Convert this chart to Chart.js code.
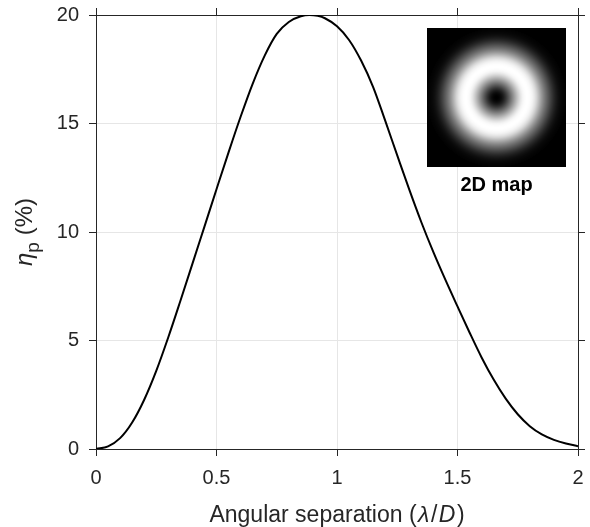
<!DOCTYPE html>
<html>
<head>
<meta charset="utf-8">
<script src="https://cdn.jsdelivr.net/npm/chart.js@4"></script>
<style>
  html, body { margin: 0; padding: 0; background: #fff; }
</style>
</head>
<body>
<canvas id="myChart" width="590" height="527"></canvas>
<script>
// valores
const separacion = [0, 0.05, 0.1, 0.15, 0.2, 0.25, 0.3, 0.35, 0.4, 0.45, 0.5, 0.55, 0.6, 0.65, 0.7,
  0.75, 0.8, 0.85, 0.885, 0.92, 0.95, 1.0, 1.05, 1.1, 1.15, 1.2, 1.25, 1.3, 1.35, 1.4, 1.45, 1.5, 1.55,
  1.6, 1.65, 1.7, 1.75, 1.8, 1.85, 1.9, 1.95, 2.0];
const eficiencia = [0, 0.12, 0.5, 1.22, 2.27, 3.6, 5.15, 6.82, 8.53, 10.25, 11.97, 13.67, 15.31, 16.83, 18.13,
  19.13, 19.68, 19.94, 20.0, 19.96, 19.85, 19.48, 18.85, 17.9, 16.68, 15.13, 13.53, 11.95, 10.45, 9.07, 7.79, 6.57, 5.37,
  4.22, 3.2, 2.32, 1.6, 1.05, 0.67, 0.42, 0.25, 0.13];
const ticksX = [0, 0.5, 1, 1.5, 2];
const ticksY = [0, 5, 10, 15, 20];
const tituloX = [['Angular separation (', false], ['λ', true], ['/', false], ['D', true], [')', false]];
const tituloY = ['η', 'p', ' (%)'];
const textoMapa = '2D map';

const ctx = document.getElementById('myChart');
const fuente = "'Liberation Sans', Arial, Helvetica, sans-serif";
const gris = '#262626';

const fijarTicks = (valores) => (scale) => {
  scale.ticks = valores.map(v => ({ value: v }));
};

// interpolacion lineal para pintar el mapa 2D a partir de la curva
const valorEn = (r) => {
  if (r >= separacion[separacion.length - 1]) return 0;
  for (let i = 1; i < separacion.length; i++) {
    if (r <= separacion[i]) {
      const t = (r - separacion[i - 1]) / (separacion[i] - separacion[i - 1]);
      return eficiencia[i - 1] + t * (eficiencia[i] - eficiencia[i - 1]);
    }
  }
  return 0;
};

const textos = {
  id: 'textos',
  afterDraw(chart) {
    const c = chart.ctx;
    const area = chart.chartArea;
    c.save();
    c.fillStyle = gris;
    c.textBaseline = 'alphabetic';

    // titulo eje x con partes en cursiva
    const tam = 23;
    const extra = 1.5;
    let ancho = 0;
    tituloX.forEach(([t, it]) => {
      c.font = (it ? 'italic ' : '') + tam + 'px ' + fuente;
      ancho += c.measureText(t).width + (it ? extra * 2 : 0);
    });
    let x = (area.left + area.right) / 2 - ancho / 2;
    tituloX.forEach(([t, it]) => {
      c.font = (it ? 'italic ' : '') + tam + 'px ' + fuente;
      c.textAlign = 'left';
      if (it) x += extra;
      c.fillText(t, x, 522);
      x += c.measureText(t).width + (it ? extra : 0);
    });

    // titulo eje y
    const tamY = 24;
    c.translate(32, (area.top + area.bottom) / 2);
    c.rotate(-Math.PI / 2);
    c.font = 'italic ' + tamY + 'px ' + fuente;
    const w1 = c.measureText(tituloY[0]).width;
    c.font = (tamY * 0.8) + 'px ' + fuente;
    const w2 = c.measureText(tituloY[1]).width;
    c.font = tamY + 'px ' + fuente;
    const w3 = c.measureText(tituloY[2]).width;
    let y0 = -(w1 + w2 + w3) / 2;
    c.textAlign = 'left';
    c.font = 'italic ' + tamY + 'px ' + fuente;
    c.fillText(tituloY[0], y0, 0);
    y0 += w1;
    c.font = (tamY * 0.8) + 'px ' + fuente;
    c.fillText(tituloY[1], y0, 7);
    y0 += w2;
    c.font = tamY + 'px ' + fuente;
    c.fillText(tituloY[2], y0, 0);
    c.restore();
  }
};

const mapa = {
  id: 'mapa',
  afterDatasetsDraw(chart) {
    const c = chart.ctx;
    const lado = 139;
    const x0 = 427, y0 = 28;
    const img = c.createImageData(lado, lado);
    const centro = (lado - 1) / 2;
    const escala = (lado / 2) / 2; // px por unidad de lambda/D
    for (let j = 0; j < lado; j++) {
      for (let i = 0; i < lado; i++) {
        const r = Math.hypot(i - centro, j - centro) / escala;
        const g = Math.round(255 * Math.max(0, Math.min(1, valorEn(r) / 20)));
        const k = (j * lado + i) * 4;
        img.data[k] = g;
        img.data[k + 1] = g;
        img.data[k + 2] = g;
        img.data[k + 3] = 255;
      }
    }
    c.putImageData(img, x0, y0);
    c.save();
    c.fillStyle = '#000';
    c.font = 'bold 20px ' + fuente;
    c.textAlign = 'center';
    c.textBaseline = 'alphabetic';
    c.fillText(textoMapa, x0 + lado / 2, 191);
    c.restore();
  }
};

new Chart(ctx, {
  type: 'line',
  data: {
    datasets: [{
      data: separacion.map((x, i) => ({ x: x, y: eficiencia[i] })),
      borderColor: '#000',
      borderWidth: 2,
      pointRadius: 0,
      cubicInterpolationMode: 'monotone',
      fill: false
    }]
  },
  options: {
    responsive: false,
    animation: false,
    devicePixelRatio: 1,
    layout: { padding: 0 },
    plugins: {
      legend: { display: false },
      tooltip: { enabled: false }
    },
    scales: {
      x: {
        type: 'linear',
        position: 'bottom',
        min: 0,
        max: 2,
        afterBuildTicks: fijarTicks(ticksX),
        afterFit: (s) => { s.height = 78; s.paddingLeft = 0; s.paddingRight = 0; },
        grid: { color: '#e6e6e6', tickColor: gris, tickLength: 7 },
        border: { color: gris, width: 1 },
        ticks: {
          color: gris,
          padding: 10,
          maxRotation: 0,
          font: { family: fuente, size: 20 },
          callback: (v) => String(v)
        }
      },
      x2: {
        type: 'linear',
        position: 'top',
        min: 0,
        max: 2,
        afterBuildTicks: fijarTicks(ticksX),
        afterFit: (s) => { s.height = 15; s.paddingLeft = 0; s.paddingRight = 0; },
        grid: { drawOnChartArea: false, tickColor: gris, tickLength: 7 },
        border: { color: gris, width: 1 },
        ticks: { display: false }
      },
      y: {
        type: 'linear',
        position: 'left',
        min: 0,
        max: 20,
        afterBuildTicks: fijarTicks(ticksY),
        afterFit: (s) => { s.width = 96; s.paddingTop = 0; s.paddingBottom = 0; },
        grid: { color: '#e6e6e6', tickColor: gris, tickLength: 7 },
        border: { color: gris, width: 1 },
        ticks: {
          color: gris,
          padding: 10,
          font: { family: fuente, size: 20 },
          callback: (v) => String(v)
        }
      },
      y2: {
        type: 'linear',
        position: 'right',
        min: 0,
        max: 20,
        afterBuildTicks: fijarTicks(ticksY),
        afterFit: (s) => { s.width = 12; s.paddingTop = 0; s.paddingBottom = 0; },
        grid: { drawOnChartArea: false, tickColor: gris, tickLength: 7 },
        border: { color: gris, width: 1 },
        ticks: { display: false }
      }
    }
  },
  plugins: [mapa, textos]
});
</script>
</body>
</html>
